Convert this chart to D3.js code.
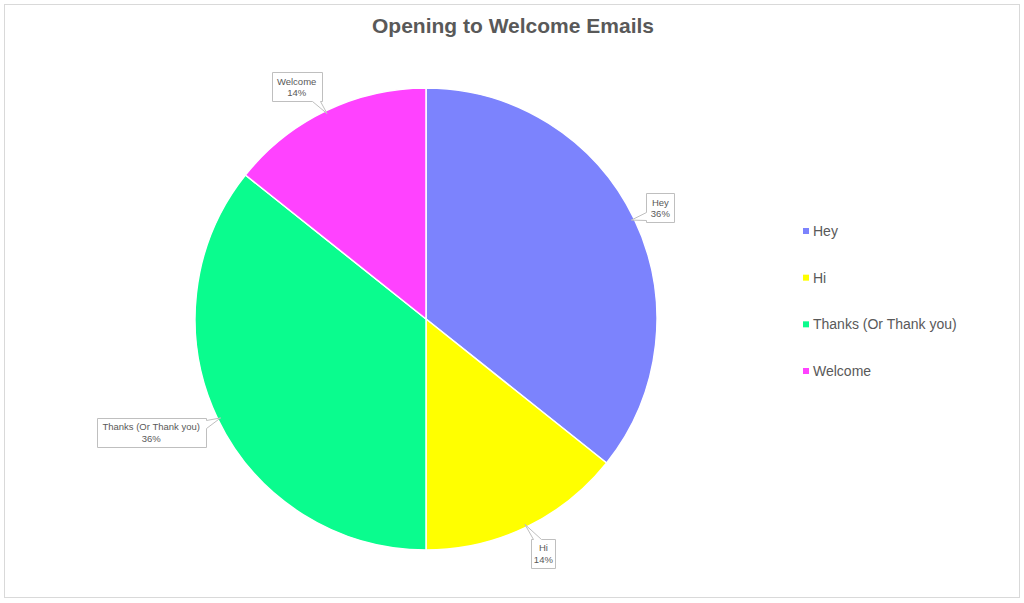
<!DOCTYPE html>
<html>
<head>
<meta charset="utf-8">
<script src="https://cdn.jsdelivr.net/npm/d3@7"></script>
<style>
  body { margin: 0; background: #fff; }
  svg { display: block; }
</style>
</head>
<body>
<svg id="chart"></svg>
<script>
const categories = ["Hey", "Hi", "Thanks (Or Thank you)", "Welcome"];
const counts = [5, 2, 5, 2];
const colors = ["#7c83fd", "#ffff00", "#0afc8e", "#ff42ff"];

const width = 1024, height = 603;
const cx = 426, cy = 319, R = 231;

const svg = d3.select("#chart")
    .attr("width", width)
    .attr("height", height);

// chart area border
svg.append("rect")
    .attr("x", 4.5).attr("y", 4.5)
    .attr("width", 1015).attr("height", 593)
    .attr("fill", "#fff")
    .attr("stroke", "#d9d9d9");

svg.append("text")
    .attr("x", 513).attr("y", 33)
    .attr("text-anchor", "middle")
    .attr("font-family", "Liberation Sans, Arial, sans-serif")
    .attr("font-weight", "bold")
    .attr("font-size", 21)
    .attr("fill", "#595959")
    .text("Opening to Welcome Emails");

const color = d3.scaleOrdinal().domain(categories).range(colors);

const pie = d3.pie().sort(null).value(d => d.v);
const arcs = pie(categories.map((c, i) => ({ c: c, v: counts[i] })));
const total = d3.sum(counts);

const arc = d3.arc().innerRadius(0).outerRadius(R);

const g = svg.append("g").attr("transform", `translate(${cx},${cy})`);

g.selectAll("path.slice")
    .data(arcs)
    .enter()
    .append("path")
    .attr("class", "slice")
    .attr("d", arc)
    .attr("fill", d => color(d.data.c))
    .attr("stroke", "#fff")
    .attr("stroke-width", 1.5);

function polar(a, r) {
    return [r * Math.sin(a), -r * Math.cos(a)];
}

function calloutPath(x0, y0, w, h, T) {
    const x1 = x0 + w, y1 = y0 + h, mx = x0 + w / 2, my = y0 + h / 2;
    const dx = T[0] - mx, dy = T[1] - my, nw = 4;
    let pts;
    if (Math.abs(dx) / (w / 2) > Math.abs(dy) / (h / 2)) {
        const ny = Math.max(y0 + nw + 2, Math.min(y1 - nw - 2, T[1]));
        if (dx > 0) pts = [[x0, y0], [x1, y0], [x1, ny - nw], T, [x1, ny + nw], [x1, y1], [x0, y1]];
        else pts = [[x0, y0], [x1, y0], [x1, y1], [x0, y1], [x0, ny + nw], T, [x0, ny - nw]];
    } else {
        const nx = Math.max(x0 + nw + 2, Math.min(x1 - nw - 2, T[0]));
        if (dy > 0) pts = [[x0, y0], [x1, y0], [x1, y1], [nx + nw, y1], T, [nx - nw, y1], [x0, y1]];
        else pts = [[x0, y0], [nx - nw, y0], T, [nx + nw, y0], [x1, y0], [x1, y1], [x0, y1]];
    }
    return d3.line()(pts) + "Z";
}

// data callouts
const labels = g.selectAll("g.callout")
    .data(arcs)
    .enter()
    .append("g")
    .attr("class", "callout");

labels.each(function (d) {
    const sel = d3.select(this);
    const mid = (d.startAngle + d.endAngle) / 2;
    const pct = Math.round(d.data.v / total * 100) + "%";
    const path = sel.append("path");
    const t = sel.append("text")
        .attr("font-family", "Liberation Sans, Arial, sans-serif")
        .attr("font-size", 9.5)
        .attr("fill", "#595959")
        .attr("text-anchor", "middle");
    t.append("tspan").text(d.data.c);
    const l1 = t.node().getComputedTextLength();
    const w = Math.max(24, Math.round(l1) + 11), h = 29;
    const p = polar(mid, R + 28);
    const s = Math.sin(mid);
    const bx = p[0] + Math.sign(s) * (Math.max(0, w / 2 - 13) + (Math.abs(s) < 0.6 ? 5 : 0));
    const by = p[1] + 1;
    t.attr("x", bx).attr("y", by - 2);
    t.select("tspan").attr("x", bx);
    t.append("tspan").attr("x", bx).attr("dy", 11.5).text(pct);
    const tip = polar(mid, R - 3);
    path.attr("d", calloutPath(Math.round(bx - w / 2) + 0.5, Math.round(by - h / 2) + 0.5, w, h, tip))
        .attr("fill", "#fff")
        .attr("stroke", "#bfbfbf")
        .attr("stroke-width", 1);
});

// legend
const legendY = d3.scalePoint().domain(categories).range([231, 371]);
const legend = svg.append("g")
    .selectAll("g")
    .data(categories)
    .enter()
    .append("g")
    .attr("transform", d => `translate(803,${legendY(d)})`);

legend.append("rect")
    .attr("x", 0).attr("y", -3)
    .attr("width", 6).attr("height", 6)
    .attr("fill", d => color(d));

legend.append("text")
    .attr("x", 10).attr("y", 5)
    .attr("font-family", "Liberation Sans, Arial, sans-serif")
    .attr("font-size", 14)
    .attr("fill", "#595959")
    .text(d => d);
</script>
</body>
</html>
